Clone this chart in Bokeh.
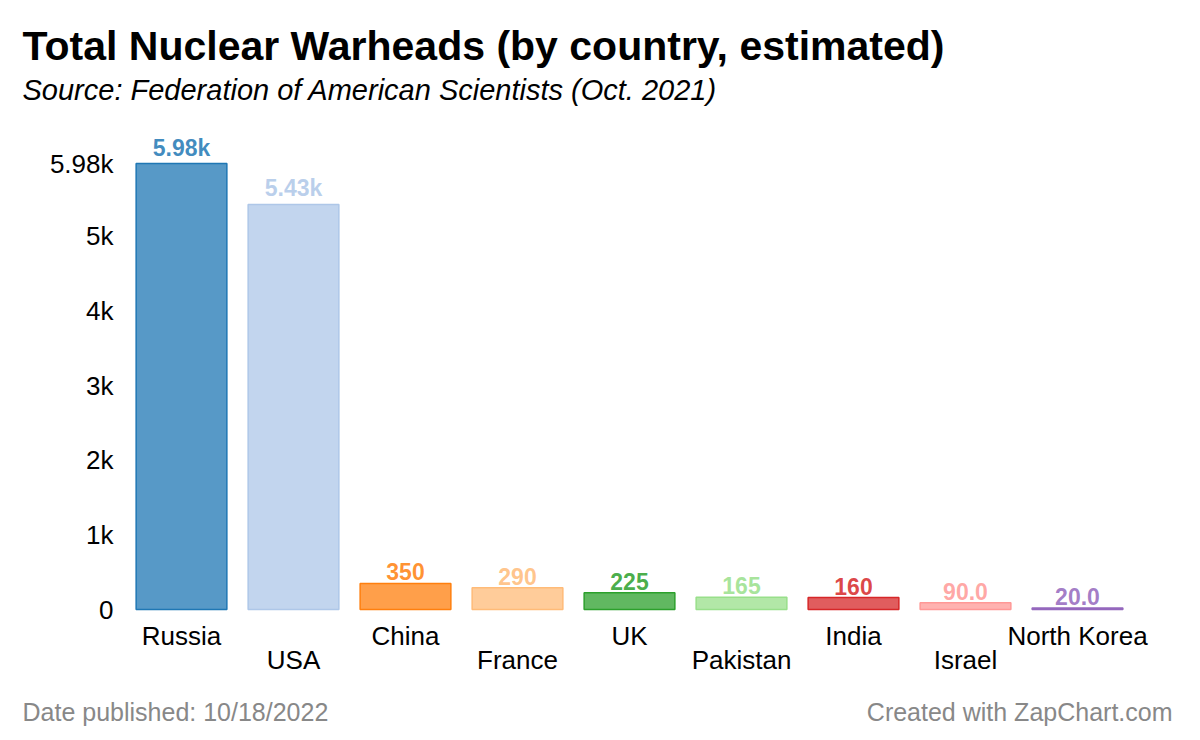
from bokeh.plotting import figure
from bokeh.models import (ColumnDataSource, LabelSet, FixedTicker, Range1d)
from bokeh.layouts import column
from bokeh.core.properties import value
from bokeh.embed import file_html
from bokeh.resources import INLINE

countries = ["Russia", "USA", "China", "France", "UK", "Pakistan", "India", "Israel", "North Korea"]
warheads = [5977, 5428, 350, 290, 225, 165, 160, 90, 20]
colors = ["#1f77b4", "#aec7e8", "#ff7f0e", "#ffbb78", "#2ca02c", "#98df8a", "#d62728", "#ff9896", "#9467bd"]
y_ticks = [0, 1000, 2000, 3000, 4000, 5000, 5977]
y_tick_labels = ["0", "1k", "2k", "3k", "4k", "5k", "5.98k"]

title_text = "Total Nuclear Warheads (by country, estimated)"
subtitle_text = "Source: Federation of American Scientists (Oct. 2021)"
footer_left = "Date published: 10/18/2022"
footer_right = "Created with ZapChart.com"

FONT = value("Liberation Sans")
W = 1200


def fmt(v):
    if v >= 1000:
        return f"{v/1000:.2f}k"
    if v >= 100:
        return f"{v:.0f}"
    return f"{v:.1f}"


def blank(fig):
    fig.outline_line_color = None
    fig.xgrid.visible = False
    fig.ygrid.visible = False
    return fig


# ---- header ----
HEADER_H = 125
header = blank(figure(width=W, height=HEADER_H, x_range=Range1d(0, W), y_range=Range1d(HEADER_H, 0),
                      output_backend="svg", toolbar_location=None, x_axis_location=None,
                      y_axis_location=None, min_border=0, frame_align=False))
header.text(x=[22], y=[45], text=[title_text], text_font=FONT, text_font_size="41px",
            text_font_style="bold", text_color="#000000", text_baseline="alphabetic")
header.text(x=[22], y=[89], text=[subtitle_text], text_font=FONT, text_font_size="29px",
            text_font_style="italic", text_color="#000000", text_baseline="alphabetic")

# ---- main chart ----
MAIN_H = 565
top_border, bottom_border = 5, 2
left_border, right_border = 125, 5
frame_top = HEADER_H + top_border          # canvas px
frame_bottom = HEADER_H + MAIN_H - bottom_border
zero_px, max_px = 609, 163                 # canvas px of 0 and of the largest value
k = (zero_px - max_px) / max(warheads)     # px per warhead
y_end = (zero_px - frame_top) / k
y_start = -(frame_bottom - zero_px) / k

band = 112                                  # px per category
x_start = -0.5
x_end = x_start + (W - left_border - right_border) / band

positions = list(range(len(countries)))
source = ColumnDataSource(dict(
    x=positions, country=countries, value=warheads, color=colors,
    label=[fmt(v) for v in warheads],
))

p = blank(figure(width=W, height=MAIN_H, x_range=Range1d(x_start, x_end),
                 y_range=Range1d(y_start, y_end), output_backend="svg", toolbar_location=None,
                 min_border_left=left_border, min_border_right=right_border,
                 min_border_top=top_border, min_border_bottom=bottom_border,
                 x_axis_location=None, frame_align=False))

p.vbar(x="x", top="value", width=0.81, source=source, fill_color="color",
       fill_alpha=0.75, line_color="color", line_width=1.5)

ax = p.yaxis[0]
ax.ticker = FixedTicker(ticks=y_ticks)
ax.major_label_overrides = {t: l for t, l in zip(y_ticks, y_tick_labels)}
ax.axis_line_color = None
ax.major_tick_line_color = None
ax.minor_tick_line_color = None
ax.major_tick_out = 0
ax.major_tick_in = 0
ax.major_label_standoff = 12
ax.major_label_text_font = "Liberation Sans"
ax.major_label_text_font_size = "26px"
ax.major_label_text_color = "#000000"

p.add_layout(LabelSet(x="x", y="value", text="label", source=source,
                      text_color="color", text_alpha=0.85, text_font=FONT,
                      text_font_size="23px", text_font_style="bold",
                      text_align="center", text_baseline="bottom", y_offset=3))

even = ColumnDataSource(dict(x=positions[0::2], country=countries[0::2], zero=[0] * len(positions[0::2])))
odd = ColumnDataSource(dict(x=positions[1::2], country=countries[1::2], zero=[0] * len(positions[1::2])))
for src, off in ((even, -35), (odd, -59)):
    p.add_layout(LabelSet(x="x", y="zero", text="country", source=src,
                          text_color="#000000", text_font=FONT, text_font_size="26px",
                          text_align="center", text_baseline="alphabetic", y_offset=off))

# ---- footer ----
FOOTER_H = 740 - HEADER_H - MAIN_H
footer = blank(figure(width=W, height=FOOTER_H, x_range=Range1d(0, W), y_range=Range1d(FOOTER_H, 0),
                      output_backend="svg", toolbar_location=None, x_axis_location=None,
                      y_axis_location=None, min_border=0, frame_align=False))
footer.text(x=[22], y=[21], text=[footer_left], text_font=FONT, text_font_size="25px",
            text_color="#888888", text_baseline="alphabetic", text_align="left")
footer.text(x=[1172], y=[21], text=[footer_right], text_font=FONT, text_font_size="25px",
            text_color="#888888", text_baseline="alphabetic", text_align="right")

layout = column(header, p, footer, spacing=0)
open("out.html", "w").write(file_html(layout, INLINE))
